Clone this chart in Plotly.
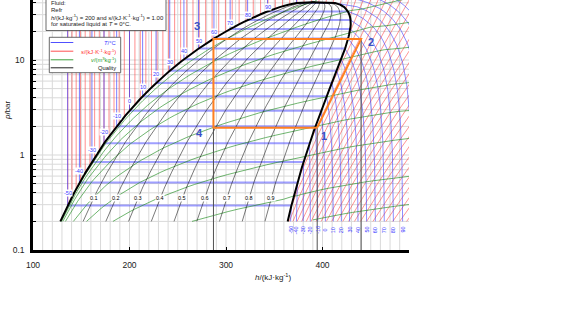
import numpy as np
import plotly.graph_objects as go

# ---------------- data (refrigerant, IIR reference) ----------------
sat_T  = np.array([-60, -50, -40, -30, -20, -10, 0, 10, 20, 30, 40, 50, 60, 70, 75, 80, 85, 90, 95, 98, 100, 101.06])
sat_p  = np.array([0.1591, 0.2943, 0.5121, 0.8438, 1.3273, 2.0060, 2.9280, 4.1461, 5.7171, 7.7020, 10.166, 13.179,
                   16.818, 21.168, 23.650, 26.332, 29.259, 32.442, 35.912, 38.130, 39.724, 40.593])
sat_hf = np.array([123.9, 135.9, 148.1, 161.1, 173.6, 186.7, 200.0, 213.6, 227.5, 241.7, 256.4, 271.6,
                   287.5, 304.3, 313.2, 322.4, 332.4, 343.0, 355.2, 364.5, 373.1, 389.6])
sat_hg = np.array([361.6, 367.8, 374.0, 380.3, 386.6, 392.7, 398.6, 404.3, 409.7, 414.8, 419.4, 423.4,
                   426.6, 428.8, 429.2, 429.1, 428.3, 426.4, 422.8, 418.5, 413.0, 389.6])
sat_sf = np.array([0.6816, 0.7391, 0.7956, 0.8486, 0.9002, 0.9506, 1.0000, 1.0485, 1.0963, 1.1437, 1.1909, 1.2381,
                   1.2857, 1.3341, 1.3589, 1.3845, 1.4110, 1.4386, 1.4710, 1.4958, 1.5189, 1.5631])
sat_sg = np.array([1.7968, 1.7783, 1.7643, 1.7501, 1.7416, 1.7334, 1.7271, 1.7220, 1.7178, 1.7147, 1.7114, 1.7078,
                   1.7032, 1.6969, 1.6921, 1.6866, 1.6788, 1.6683, 1.6546, 1.6413, 1.6258, 1.5631])
sat_vf = np.array([0.000676, 0.000691, 0.000705, 0.000720, 0.000736, 0.000754, 0.000772, 0.000793, 0.000816, 0.000842,
                   0.000872, 0.000907, 0.000950, 0.001000, 0.001032, 0.001077, 0.001130, 0.001183, 0.001280, 0.001400,
                   0.001540, 0.001953])
sat_vg = np.array([1.070, 0.600, 0.3608, 0.2260, 0.1473, 0.0992, 0.0692, 0.0495, 0.0359, 0.0265, 0.0200, 0.0151,
                   0.01146, 0.00887, 0.00780, 0.00682, 0.00590, 0.00505, 0.00410, 0.00340, 0.00285, 0.001953])

cyc_h = [394.5, 440.0, 287.0, 287.0, 394.5]
cyc_p = [1.94, 16.6, 16.6, 1.94, 1.94]
cyc_labels = ["1", "2", "3", "4"]
cyc_label_h = [401.8, 449.9, 269.6, 272.3]
cyc_label_p = [1.58, 15.4, 22.7, 1.71]

iso_T = [-50, -40, -30, -20, -10, 0, 10, 20, 30, 40, 50, 60, 70, 80, 90, 100]
iso_T_hot = [110, 120, 130, 140, 150]
iso_s = [round(0.74 + 0.02 * i, 2) for i in range(78)]
iso_v = [0.002, 0.005, 0.01, 0.02, 0.05, 0.1, 0.2, 0.5, 1.0]
iso_x = [0.1, 0.2, 0.3, 0.4, 0.5, 0.6, 0.7, 0.8, 0.9]
x_ticks = [100, 200, 300, 400]
y_ticks = [0.1, 0.2, 0.3, 0.4, 0.5, 0.6, 0.7, 0.8, 0.9, 1, 2, 3, 4, 5, 6, 7, 8, 9, 10, 20, 30, 40]
y_ticklabels = {0.1: "0.1", 1: "1", 10: "10"}
P_LOW = 0.2

# ---------------- vapour-phase property model (Peng-Robinson, anchored to the table) ----------------
R = 8.314462 / 102.032
TCK, PCK, OMEGA = 374.21, 4059.28, 0.32684
AC = 0.45724 * (R * TCK) ** 2 / PCK
BC = 0.07780 * R * TCK / PCK
KAP = 0.37464 + 1.54226 * OMEGA - 0.26992 * OMEGA ** 2
S2 = np.sqrt(2.0)
CP0, CP1, TM, T0 = 0.853, 0.00175, 298.15, 273.15
i0 = int(np.where(sat_T == 0)[0][0])
P0 = sat_p[i0] * 100.0


def residual(T, P):
    with np.errstate(all="ignore"):
        sq = 1.0 + KAP * (1.0 - np.sqrt(T / TCK))
        a = AC * sq * sq
        dadT = -AC * KAP * sq / np.sqrt(T * TCK)
        RT = R * T
        A = a * P / RT ** 2
        B = BC * P / RT
        c2 = B - 1.0
        c1 = A - 3 * B * B - 2 * B
        c0 = -(A * B - B * B - B ** 3)
        Z = np.ones_like(A)
        for _ in range(60):
            f = ((Z + c2) * Z + c1) * Z + c0
            d = (3 * Z + 2 * c2) * Z + c1
            d = np.where(np.abs(d) < 1e-9, 1e-9, d)
            Z = Z - f / d
        L = np.log((Z + (1 + S2) * B) / (Z + (1 - S2) * B))
        hr = RT * (Z - 1) + (T * dadT - a) / (2 * S2 * BC) * L
        sr = R * np.log(Z - B) + dadT / (2 * S2 * BC) * L
        return hr, sr, Z * RT / P


def h_ig(T):
    return CP0 * (T - T0) + 0.5 * CP1 * ((T - TM) ** 2 - (T0 - TM) ** 2)


def s_ig(T, P):
    return CP0 * np.log(T / T0) + CP1 * ((T - T0) - TM * np.log(T / T0)) - R * np.log(P / P0)


hr0, sr0, _ = residual(np.array([T0]), np.array([P0]))
H0 = sat_hg[i0] - hr0[0]
S0 = sat_sg[i0] - sr0[0]


def raw(T, P):
    hr, sr, v = residual(T, P)
    return H0 + h_ig(T) + hr, S0 + s_ig(T, P) + sr, v


TK_tab = sat_T + 273.15
Pk_tab = sat_p * 100.0
lnP_tab = np.log(Pk_tab)
m = sat_T <= 100
hraw, sraw, vraw = raw(TK_tab[m], Pk_tab[m])
dH = sat_hg[m] - hraw
dS = sat_sg[m] - sraw
eV = sat_vg[m] / vraw - 1.0
good = np.isfinite(dH) & np.isfinite(dS) & np.isfinite(eV) & (np.abs(dH) < 20) & (np.abs(eV) < 0.3)
cT = np.append(TK_tab[m][good], 115 + 273.15)
cH = np.append(dH[good], 0.0)
cS = np.append(dS[good], 0.0)
cV = np.append(eV[good], 0.0)


def psat_kpa(T):
    return np.exp(np.interp(T, TK_tab, lnP_tab))


def tsat_k(P):
    return np.interp(np.log(P), lnP_tab, TK_tab)


def props(T, P):
    T, P = np.broadcast_arrays(np.asarray(T, float), np.asarray(P, float))
    h, s, v = raw(T, P)
    w = np.clip(P / psat_kpa(T), 0, 1)
    h = h + np.interp(T, cT, cH) * w
    s = s + np.interp(T, cT, cS) * w
    v = v * (1 + np.interp(T, cT, cV) * w)
    return h, s, v


def solve_h(which, levels, Pk):
    lv = np.asarray(levels, float)[:, None]
    P = np.asarray(Pk, float)[None, :]
    Tlo = tsat_k(P) * np.ones_like(lv)
    Thi = np.full_like(Tlo, 650.0)
    f = lambda T: props(T, P)[which]
    with np.errstate(all="ignore"):
        ok = (f(Tlo) <= lv) & (f(Thi) >= lv)
        lo, hi = Tlo.copy(), Thi.copy()
        for _ in range(40):
            mid = 0.5 * (lo + hi)
            below = f(mid) < lv
            lo = np.where(below, mid, lo)
            hi = np.where(below, hi, mid)
        h = props(0.5 * (lo + hi), P)[0]
    h[~ok] = np.nan
    return h


# saturation helpers (pressure in bar)
lnp_bar = np.log(sat_p)
def hf_p(p): return np.interp(np.log(p), lnp_bar, sat_hf)
def hg_p(p): return np.interp(np.log(p), lnp_bar, sat_hg)
def vf_p(p): return np.exp(np.interp(np.log(p), lnp_bar, np.log(sat_vf)))
def vg_p(p): return np.exp(np.interp(np.log(p), lnp_bar, np.log(sat_vg)))


P_TOP = 60.0
pq = np.unique(np.concatenate([np.geomspace(P_LOW, sat_p[-1], 90), sat_p[sat_p > P_LOW]]))
PV = np.geomspace(P_LOW, 46.0, 150)


def collect(lines):
    xs, ys = [], []
    for hh, pp in lines:
        hh = np.asarray(hh, float); pp = np.asarray(pp, float)
        k = np.isfinite(hh) & np.isfinite(pp)
        if k.sum() < 2:
            continue
        xs += [float(v) for v in hh[k]] + [None]
        ys += [float(v) for v in pp[k]] + [None]
    return xs, ys


# ---- dome
dome_h = np.concatenate([hf_p(pq), hg_p(pq)[::-1]])
dome_p = np.concatenate([pq, pq[::-1]])

# ---- quality lines
q_lines = [(hf_p(pq) + x * (hg_p(pq) - hf_p(pq)), pq) for x in iso_x]

# ---- isotherms
T_liq, T_dome, T_vap = [], [], []
T_labels, T_bottom = [], []
for T in iso_T:
    ps = float(np.exp(np.interp(T, sat_T, lnp_bar)))
    hf = float(np.interp(T, sat_T, sat_hf)); hg = float(np.interp(T, sat_T, sat_hg))
    T_liq.append(([hf, hf], [ps, P_TOP]))
    T_dome.append(([hf, hg], [ps, ps]))
    T_labels.append((T, hf, ps))
for T in iso_T + iso_T_hot:
    TK = T + 273.15
    if T < sat_T[-1]:
        pp = np.geomspace(float(np.exp(np.interp(T, sat_T, lnp_bar))), P_LOW, 60)
    else:
        pp = np.geomspace(46.0, P_LOW, 80)
    h = props(np.full_like(pp, TK), pp * 100.0)[0]
    if T < sat_T[-1]:
        h[0] = np.interp(T, sat_T, sat_hg)
    T_vap.append((h, pp))
    if T in iso_T and np.isfinite(h[-1]) and h[-1] < 488:
        T_bottom.append((T, float(h[-1])))

# ---- isentropes
s_liq = []
for s in iso_s:
    if s < sat_sf[-1]:
        hh = float(np.interp(s, sat_sf, sat_hf))
        ps = float(np.exp(np.interp(s, sat_sf, lnp_bar)))
        if ps >= P_LOW:
            s_liq.append(([hh, hh], [ps, P_TOP]))
s_v_levels = [s for s in iso_s if s > sat_sf[-1]]
Hs = solve_h(1, s_v_levels, PV * 100.0)
s_vap = []
for k, s in enumerate(s_v_levels):
    hh = list(Hs[k]); pp = list(PV)
    if sat_sg[-1] < s < sat_sg[0]:
        ps = float(np.exp(np.interp(s, sat_sg[::-1], lnp_bar[::-1])))
        if ps >= P_LOW:
            hs = float(hg_p(ps))
            keep = [(a, b) for a, b in zip(hh, pp) if b > ps]
            hh = [hs] + [a for a, b in keep]
            pp = [ps] + [b for a, b in keep]
    s_vap.append((hh, pp))

# ---- isochores
Hv = solve_h(2, iso_v, PV * 100.0)
v_lines = []
for k, v in enumerate(iso_v):
    hh, pp = [], []
    x = (v - vf_p(pq)) / (vg_p(pq) - vf_p(pq))
    sel = (x >= 0) & (x <= 1)
    hh += list(hf_p(pq[sel]) + x[sel] * (hg_p(pq[sel]) - hf_p(pq[sel])))
    pp += list(pq[sel])
    pstar = P_LOW
    if sat_vg[-1] < v < vg_p(P_LOW):
        pstar = float(np.exp(np.interp(v, sat_vg[::-1], lnp_bar[::-1])))
        hh.append(float(hg_p(pstar))); pp.append(pstar)
    for a, b in zip(Hv[k], PV):
        if b > pstar and np.isfinite(a):
            hh.append(a); pp.append(b)
    v_lines.append((hh, pp))

# ---- grid
grid_lines = [([h, h], [0.1, P_TOP]) for h in range(110, 490, 10)]
grid_lines += [([100, 500], [p, p]) for p in y_ticks[1:]]

# ---------------- figure ----------------
fig = go.Figure()


def add(lines, color, width):
    xs, ys = collect(lines)
    fig.add_trace(go.Scatter(x=xs, y=ys, mode="lines", line=dict(color=color, width=width),
                             hoverinfo="skip", showlegend=False))


add(grid_lines, "#d9d9d9", 1)
add(s_liq, "rgba(255,40,40,0.75)", 0.7)
add(s_vap, "rgba(255,40,40,0.7)", 0.7)
add(T_liq, "rgba(50,50,255,0.8)", 0.8)
add(T_dome, "rgba(80,80,255,0.55)", 2.0)
add(T_vap, "rgba(50,50,255,0.7)", 0.8)
add(v_lines, "rgba(30,140,30,0.8)", 0.8)
add(q_lines, "rgba(0,0,0,0.75)", 0.7)
add([(dome_h, dome_p)], "black", 2.0)
proj = [([cyc_h[2], cyc_h[2]], [cyc_p[2], 0.1]), ([cyc_h[0], cyc_h[0]], [cyc_p[0], 0.1]),
        ([cyc_h[1], cyc_h[1]], [cyc_p[1], 0.1])]
add(proj, "#505050", 1.0)
fig.add_trace(go.Scatter(x=cyc_h, y=cyc_p, mode="lines", line=dict(color="#ff8020", width=2),
                         hoverinfo="skip", showlegend=False))

FONT = "Liberation Sans, Arial, sans-serif"


def ypix(p):
    return 250.0 - 95.0 * (np.log10(p) + 1.0)


def logp_y(y):
    return (250.0 - y) / 95.0 - 1.0


def xp(px):
    return (px - 33.0) / 376.0


def yp(py):
    return 1.0 - py / 250.0


ann = []
for T, hf, ps in T_labels:
    off = float(np.interp(T, [-50, 40, 90], [12.5, 8.3, 4.4]))
    ann.append(dict(x=hf, y=logp_y(ypix(ps) - off), text=str(T), showarrow=False, bgcolor="white",
                    xanchor="center", yanchor="middle",
                    font=dict(size=5.5, color="#3a3aff", family=FONT), borderpad=0))
for T, h in T_bottom:
    ann.append(dict(x=h, y=logp_y(230), text=str(T), showarrow=False, textangle=-90,
                    xanchor="center", yanchor="middle",
                    font=dict(size=5.5, color="#3a3aff", family=FONT)))
pl = 10 ** logp_y(198)
for x in iso_x:
    hh = float(hf_p(pl) + x * (hg_p(pl) - hf_p(pl)))
    ann.append(dict(x=hh, y=np.log10(pl), text=str(x), showarrow=False, bgcolor="white", borderpad=0,
                    xanchor="center", yanchor="middle",
                    font=dict(size=5.5, color="black", family=FONT)))
for t, h, p in zip(cyc_labels, cyc_label_h, cyc_label_p):
    ann.append(dict(x=h, y=np.log10(p), text="<b>%s</b>" % t, showarrow=False,
                    xanchor="center", yanchor="middle",
                    font=dict(size=11, color="#3a50c8", family=FONT)))

# axis titles
ann.append(dict(xref="paper", yref="paper", x=xp(272.5), y=yp(277), text="<i>h</i>/(kJ·kg<sup>-1</sup>)",
                xanchor="center", yanchor="middle",
                showarrow=False, font=dict(size=8, color="#222", family=FONT)))
ann.append(dict(xref="paper", yref="paper", x=xp(8), y=yp(110), text="<i>p</i>/bar", textangle=-90,
                xanchor="center", yanchor="middle",
                showarrow=False, font=dict(size=8, color="#222", family=FONT)))

# info box
shapes = [dict(type="rect", xref="paper", yref="paper", x0=xp(46), x1=xp(166), y0=yp(30.5), y1=yp(-6),
               fillcolor="white", line=dict(color="#444", width=0.8), layer="above")]
info = [("Fluid:", 3.0), ("Refr", 9.5),
        ("<i>h</i>/(kJ·kg<sup>-1</sup>) = 200 and <i>s</i>/(kJ·K<sup>-1</sup>·kg<sup>-1</sup>) = 1.00", 16.5),
        ("for saturated liquid at <i>T</i> = 0°C.", 24.5)]
for t, y in info:
    ann.append(dict(xref="paper", yref="paper", x=xp(49), y=yp(y), text=t, xanchor="left", yanchor="middle",
                    showarrow=False, font=dict(size=6, color="#222", family=FONT)))

# legend
shapes.append(dict(type="rect", xref="paper", yref="paper", x0=xp(49.3), x1=xp(120.7), y0=yp(72.7), y1=yp(37.3),
                   fillcolor="white", line=dict(color="#444", width=0.8), layer="above"))
leg = [("<i>T</i>/°C", "#3a3aff", "rgb(80,80,255)", 42.5),
       ("<i>s</i>/(kJ·K<sup>-1</sup>·kg<sup>-1</sup>)", "#ff3030", "rgb(255,80,80)", 51.2),
       ("<i>v</i>/(m<sup>3</sup>kg<sup>-1</sup>)", "#2a9a2a", "rgb(60,160,60)", 59.8),
       ("Quality", "#111", "#222", 67.8)]
for t, tc, lc, y in leg:
    shapes.append(dict(type="line", xref="paper", yref="paper", x0=xp(50.7), x1=xp(73.3), y0=yp(y), y1=yp(y),
                       line=dict(color=lc, width=1), layer="above"))
    ann.append(dict(xref="paper", yref="paper", x=xp(117.5), y=yp(y), text=t, xanchor="right", yanchor="middle",
                    showarrow=False, font=dict(size=5.8, color=tc, family=FONT)))

fig.update_layout(
    width=580, height=313, margin=dict(l=33, r=171, t=0, b=63),
    paper_bgcolor="white", plot_bgcolor="white",
    font=dict(family=FONT, size=8.5, color="#222"),
    annotations=ann, shapes=shapes, showlegend=False,
)
fig.update_xaxes(range=[100, 100 + 376 / 0.965], tickvals=x_ticks, ticktext=[str(v) for v in x_ticks],
                 ticks="inside", ticklen=3, tickcolor="black", showgrid=False, zeroline=False,
                 showline=True, linecolor="black", linewidth=2.5, tickfont=dict(size=8.5),
                 ticklabelstandoff=5)
fig.update_yaxes(type="log", range=[-1, -1 + 250 / 95], tickvals=y_ticks,
                 ticktext=[y_ticklabels.get(v, "") for v in y_ticks],
                 ticks="inside", ticklen=3, tickcolor="black", showgrid=False, zeroline=False,
                 showline=True, linecolor="black", linewidth=2.5, tickfont=dict(size=8.5),
                 ticklabelstandoff=4)

fig.write_html("out.html")
